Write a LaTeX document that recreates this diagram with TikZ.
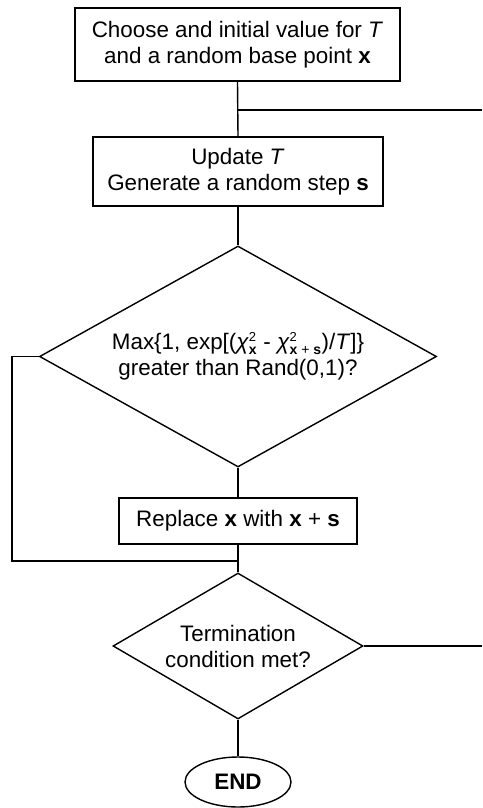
\documentclass[tikz,border=0pt]{standalone}
\usepackage{fontspec}
\setmainfont{Liberation Sans}
\usetikzlibrary{shapes.geometric}
\newcommand{\chisq}[1]{\textit{χ}$^{\mbox{\fontsize{13}{13}\selectfont 2}}_{\mbox{\fontsize{14}{14}\selectfont #1}}$}
\begin{document}
\begin{tikzpicture}[x=1pt,y=-1pt,
  every node/.style={font=\fontsize{22.4}{26}\selectfont, align=center, inner sep=0pt},
  procbox/.style={draw, line width=1.4pt, rectangle},
  decision/.style={draw, line width=1.4pt, diamond},
  terminal/.style={draw, line width=1.4pt, ellipse},
  conn/.style={line width=1.4pt}]
\useasboundingbox (0,0) rectangle (482,808);
\node[procbox, minimum width=325pt, minimum height=73pt] (b1) at (237.5,44.5)
  {Choose and initial value for \textit{T}\\and a random base point \textbf{x}};
\node[procbox, minimum width=290pt, minimum height=69pt] (b2) at (238,171.5)
  {Update \textit{T}\\Generate a random step \textbf{s}};
\node[decision, minimum width=397pt, minimum height=221pt, aspect=1.8] (d1) at (238,356.5)
  {Max\{1, exp[(\chisq{\bfseries x} - \chisq{\bfseries x\mdseries{} + \bfseries s})/\textit{T}]\}\\greater than Rand(0,1)?};
\node[procbox, minimum width=238pt, minimum height=46pt] (b3) at (238,521)
  {Replace \textbf{x} with \textbf{x} + \textbf{s}};
\node[decision, minimum width=250pt, minimum height=146pt, aspect=1.7] (d2) at (238,646)
  {Termination\\condition met?};
\node[terminal, minimum width=106pt, minimum height=50pt] (e) at (238,782)
  {\textbf{END}};
\coordinate (j1) at (238,110);
\coordinate (r1) at (482,110);
\coordinate (l1) at (12,356.5);
\coordinate (l2) at (12,561);
\coordinate (j2) at (238,561);
\coordinate (r2) at (482,646);
\draw[conn] (b1.south) -- (b2.north);
\draw[conn] (j1) -- (r1);
\draw[conn] (b2.south) -- (d1.north);
\draw[conn] (d1.south) -- (b3.north);
\draw[conn] (b3.south) -- (d2.north);
\draw[conn] (d1.west) -- (l1) -- (l2) -- (j2);
\draw[conn] (d2.east) -- (r2);
\draw[conn] (d2.south) -- (e.north);
\end{tikzpicture}
\end{document}
